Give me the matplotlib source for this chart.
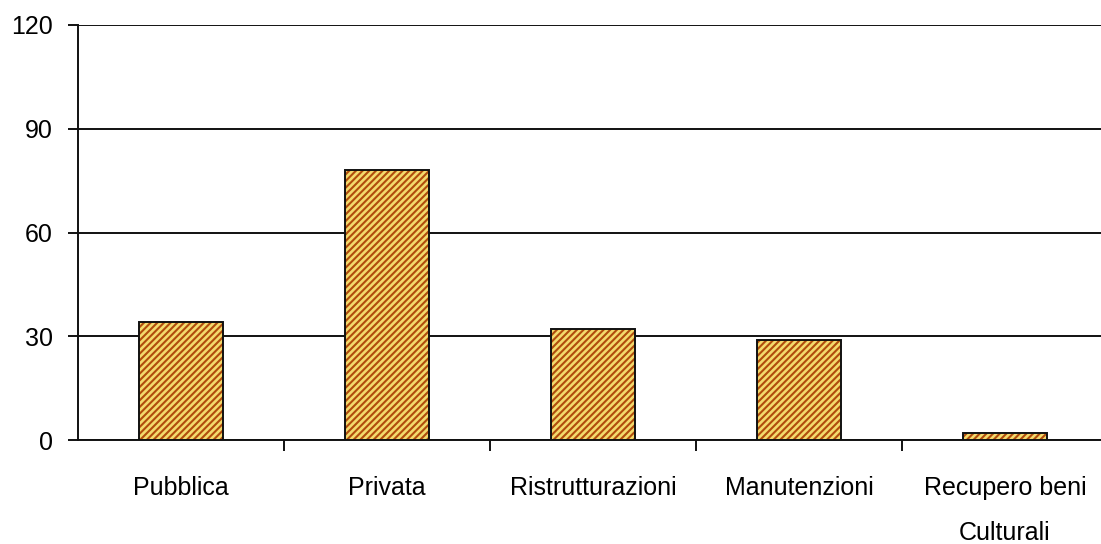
import matplotlib.pyplot as plt

plt.rcParams['font.family'] = ['Liberation Sans', 'DejaVu Sans']
plt.rcParams['hatch.linewidth'] = 1.5
plt.rcParams['hatch.color'] = '#b04c0c'

categorie = ["Pubblica", "Privata", "Ristrutturazioni", "Manutenzioni", "Recupero beni\nCulturali"]
valori = [34, 78, 32, 29, 2]
y_ticks = [0, 30, 60, 90, 120]

fig = plt.figure(figsize=(11.01, 5.44), dpi=100)
ax = fig.add_axes([78 / 1101, 104 / 544, 1030 / 1101, 415 / 544])

x = list(range(len(categorie)))
# riempimento a righe diagonali, poi il bordo nero sopra
ax.bar(x, valori, width=0.41, color='#f3da6c', edgecolor='#b04c0c', hatch='/////', linewidth=0, zorder=3)
ax.bar(x, valori, width=0.41, fill=False, edgecolor='#111111', linewidth=1.4, zorder=4)

ax.set_xlim(-0.5, len(categorie) - 0.5)
ax.set_ylim(0, 120)
ax.set_yticks(y_ticks)
ax.yaxis.grid(True, color='#111111', linewidth=1.4, zorder=1)
ax.set_axisbelow(True)

# tacche sui confini delle categorie, etichette al centro
ax.set_xticks([i + 0.5 for i in x[:-1]])
ax.set_xticklabels([])
ax.set_xticks(x, minor=True)
ax.set_xticklabels(categorie, minor=True, fontsize=18)
for lab in ax.get_xticklabels(minor=True):
    lab.set_linespacing(2.1)
ax.tick_params(axis='x', which='major', length=8, width=1.4, color='#111111', direction='out')
ax.tick_params(axis='x', which='minor', length=0, pad=26)
ax.tick_params(axis='y', length=7, width=1.4, color='#111111', labelsize=18, pad=11)

for s in ['top', 'right']:
    ax.spines[s].set_visible(False)
for s in ['left', 'bottom']:
    ax.spines[s].set_color('#111111')
    ax.spines[s].set_linewidth(1.4)

fig.savefig('out.png', dpi=100)
